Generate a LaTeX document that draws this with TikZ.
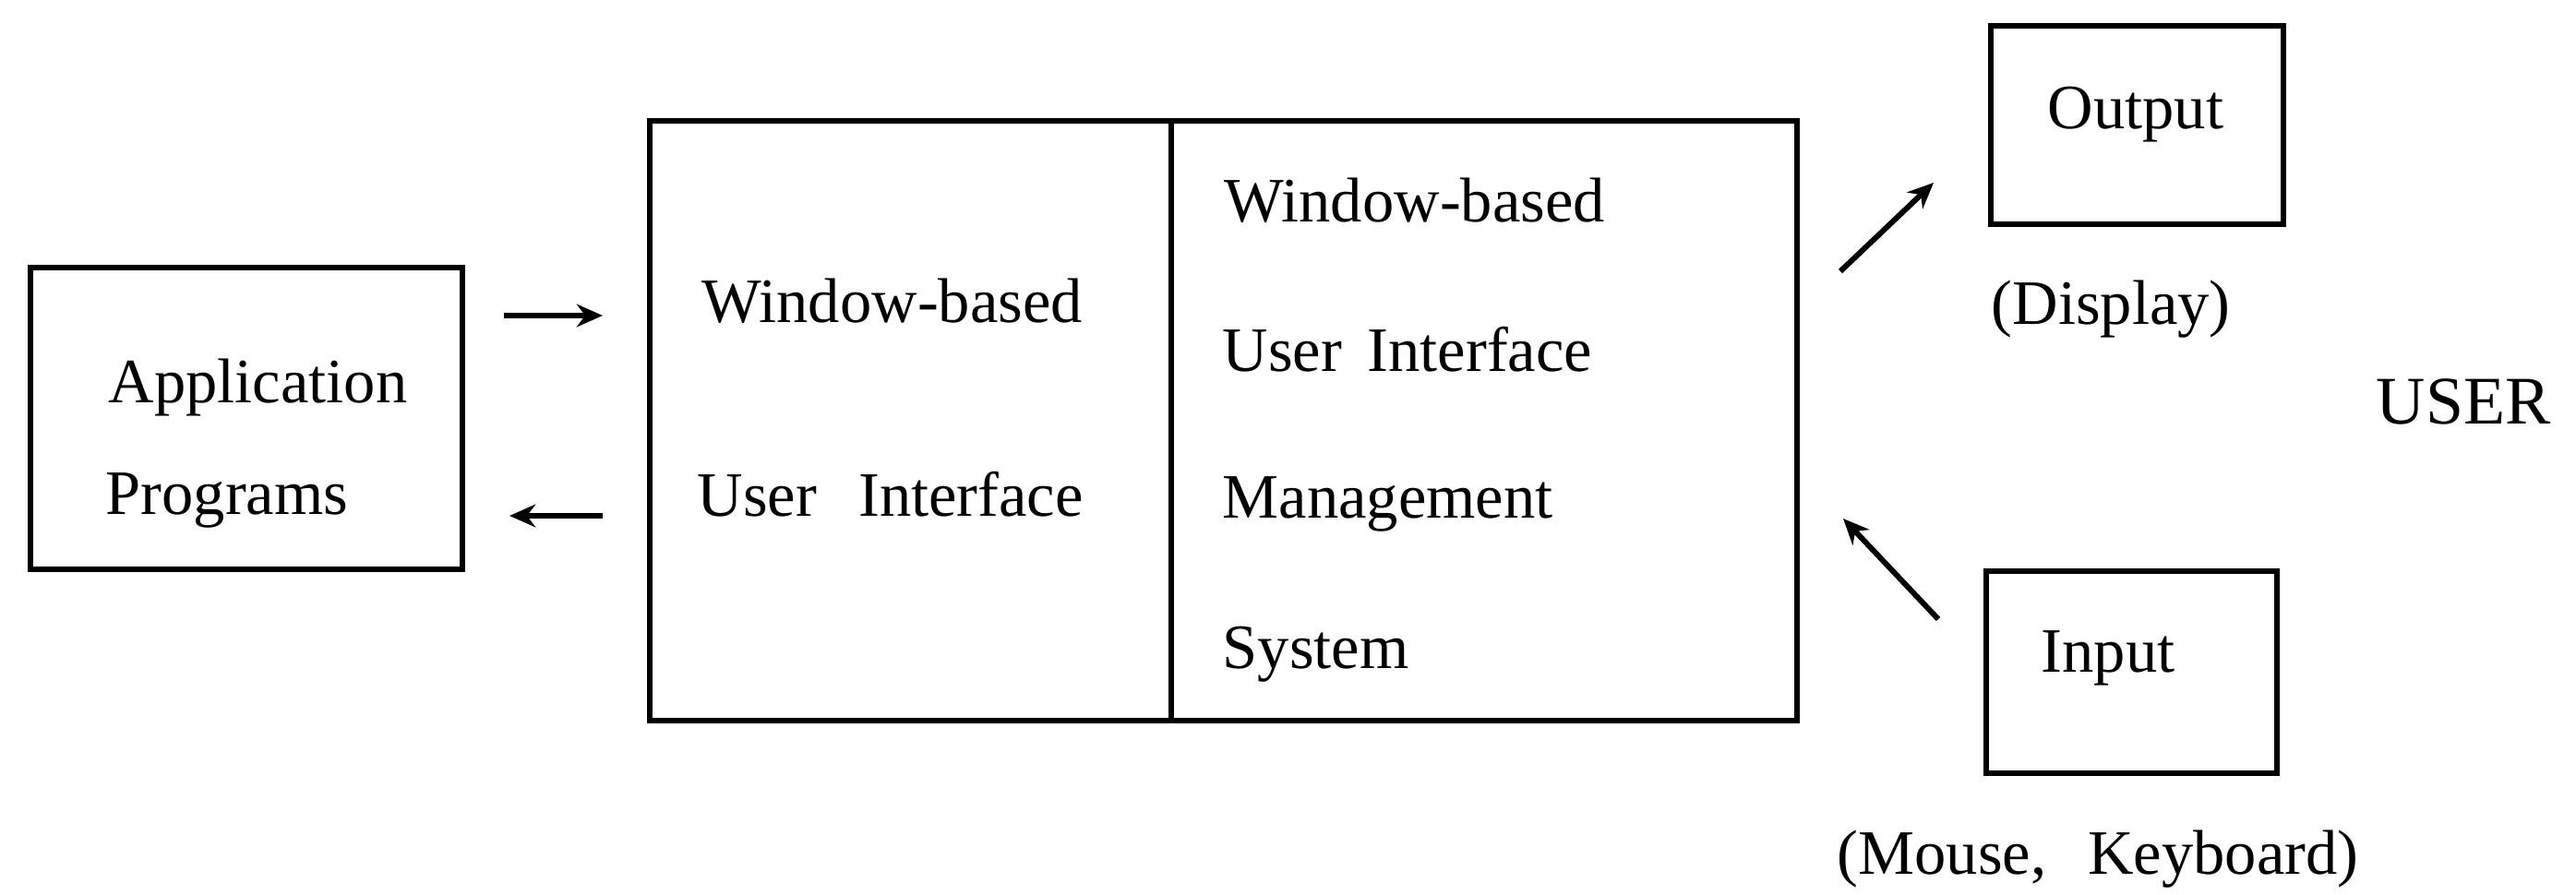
\documentclass[tikz,border=0pt]{standalone}
\usepackage{fontspec}
\setmainfont{Liberation Serif}
\usepackage{tikz}
\usetikzlibrary{arrows.meta}

\begin{document}
\begin{tikzpicture}[>={Stealth[length=8pt,width=7pt]},scale=1,
	  box/.style={draw,line width=1.6pt,inner sep=0pt,anchor=north west},
	  lbl/.style={anchor=base west,inner sep=0pt,font=\fontsize{19.5}{23}\selectfont},
	  arr/.style={->,line width=1.7pt}]
	  \useasboundingbox (0,0) rectangle (27.91,-9.69);
	  % boxes
	  \node[box,minimum width=4.68cm,minimum height=3.27cm] (app) at (0.30,-2.87) {};
	  \node[box,minimum width=5.65cm,minimum height=6.50cm] (wui) at (7.01,-1.28) {};
	  \node[box,minimum width=6.78cm,minimum height=6.50cm] (wuims) at (12.66,-1.28) {};
	  \node[box,minimum width=3.17cm,minimum height=2.15cm] (out) at (21.54,-0.25) {};
	  \node[box,minimum width=3.15cm,minimum height=2.19cm] (in) at (21.49,-6.16) {};
	  % texts
	  \node[lbl] (app1) at (1.17,-4.36) {Application};
	  \node[lbl] (app2) at (1.14,-5.57) {Programs};
	  \node[lbl] (wui1) at (7.60,-3.49) {Window-based};
	  \node[lbl] (wui2) at (7.55,-5.59) {User\hspace{8pt} Interface};
	  \node[lbl] (ms1) at (13.26,-2.40) {Window-based};
	  \node[lbl] (ms2) at (13.24,-4.02) {User\hspace{3pt} Interface};
	  \node[lbl] (ms3) at (13.24,-5.61) {Management};
	  \node[lbl] (ms4) at (13.24,-7.24) {System};
	  \node[lbl] (outt) at (22.18,-1.39) {Output};
	  \node[lbl] (disp) at (21.57,-3.51) {(Display)};
	  \node[lbl,font=\fontsize{21}{25}\selectfont] (user) at (25.74,-4.59) {USER};
	  \node[lbl] (int) at (22.11,-7.28) {Input};
	  \node[lbl] (mk) at (19.90,-9.47) {(Mouse,\hspace{8pt} Keyboard)};
	  % arrows
	  \coordinate (r1) at (5.46,-3.42);
	  \coordinate (r2) at (6.53,-3.42);
	  \coordinate (l1) at (6.53,-5.59);
	  \coordinate (l2) at (5.52,-5.59);
	  \coordinate (o1) at (19.94,-2.94);
	  \coordinate (o2) at (20.95,-1.98);
	  \coordinate (i1) at (21.00,-6.71);
	  \coordinate (i2) at (19.97,-5.62);
	  \draw[arr] (r1) -- (r2);
	  \draw[arr] (l1) -- (l2);
	  \draw[arr] (o1) -- (o2);
	  \draw[arr] (i1) -- (i2);
	\end{tikzpicture}
\end{document}
